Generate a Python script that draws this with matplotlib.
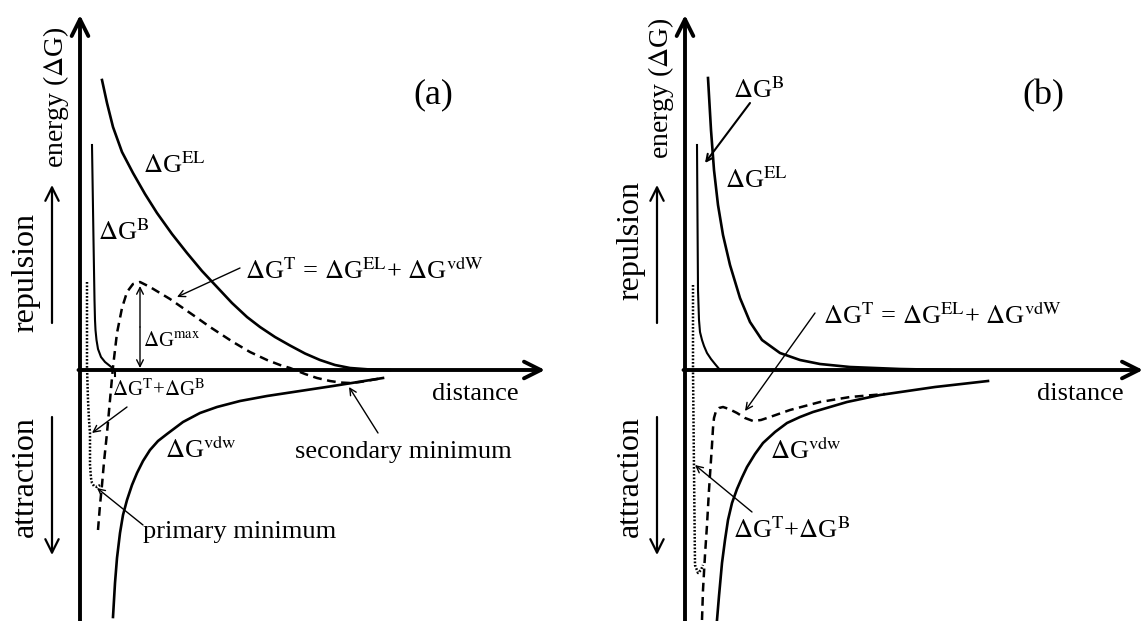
import matplotlib
matplotlib.use("Agg")
import matplotlib.pyplot as plt

plt.rcParams['font.family'] = ['Liberation Serif', 'DejaVu Serif']
plt.rcParams['mathtext.fontset'] = 'stix'

# --- panel (a) curves (distance, energy), origin = axes crossing
a_el_x = [22, 27, 33, 42, 53, 65, 77, 92, 107, 122, 137, 152, 167, 180, 195, 210, 225, 240, 255, 270, 290, 310]
a_el_y = [290, 267, 243, 218, 197, 176, 157, 136, 117, 99, 83, 67, 53, 43, 33, 24.5, 16.5, 10, 5, 2, 0.5, 0]

a_b_x = [12, 13.5, 14.5, 15, 15.5, 16.5, 18, 21, 25, 30, 35, 35]
a_b_y = [225, 130, 70, 50, 40, 30, 21, 13, 8, 4, 0, -6]

a_tb_x = [7, 7, 8, 9, 10, 10, 11, 12, 14, 17, 20]
a_tb_y = [88, 3, -30, -50, -63, -95, -108, -113, -116, -117, -115]

a_t_x = [18, 20, 22, 24, 27, 30, 33, 37, 42, 47, 53, 60, 70, 80, 90, 100, 113, 130, 153, 170,
         187, 200, 210, 225, 237, 250, 260, 270, 280, 303]
a_t_y = [-160, -135, -115, -92, -63, -30, 3, 37, 62, 78, 86, 88, 83, 77, 71, 64, 55, 43, 28, 18,
         10, 5, 2, -4, -8, -11, -12.5, -13, -12, -8]

a_vdw_x = [33, 35, 37, 40, 43, 47, 52, 57, 63, 70, 78, 87, 103, 120, 137, 160, 187, 220, 253, 303]
a_vdw_y = [-247, -213, -188, -163, -145, -130, -115, -103, -91, -80, -71, -64, -52, -43, -37, -31,
           -26, -21, -16, -8]

# --- panel (b) curves
b_el_x = [23, 26, 29, 33, 38, 45, 55, 65, 77, 95, 115, 135, 165, 215, 265]
b_el_y = [292, 240, 200, 165, 135, 105, 72, 48, 30, 17, 10, 6, 3, 1, 0]

b_b_x = [12, 12.5, 13, 14, 15, 17, 19, 22, 26, 30, 35]
b_b_y = [225, 150, 80, 50, 38, 30, 24, 17, 11, 6, 0]

b_tb_x = [8, 8, 9, 10, 13, 16, 18]
b_tb_y = [85, 0, -100, -195, -203, -200, -195]

b_t_x = [17, 18, 20, 22, 24, 26, 27, 28, 29, 31, 34, 38, 44, 52, 60, 68, 76, 85, 105, 135, 165, 200]
b_t_y = [-250, -220, -185, -155, -120, -90, -75, -58, -48, -41, -38, -37, -39, -43, -48, -51, -50,
         -47, -40, -32, -27, -24]

b_vdw_x = [32, 34, 37, 40, 43, 47, 52, 57, 62, 70, 78, 90, 102, 115, 128, 145, 162, 195, 250, 303]
b_vdw_y = [-250, -226, -193, -170, -150, -133, -119, -107.5, -97, -84, -73, -62, -53, -47, -42, -37,
           -32, -25, -17, -11]

# texts
lab_el = r'$\Delta$G$^{\mathrm{EL}}$'
lab_b = r'$\Delta$G$^{\mathrm{B}}$'
lab_vdw = r'$\Delta$G$^{\mathrm{vdw}}$'
lab_max = r'$\Delta$G$^{\mathrm{max}}$'
lab_tb = r'$\Delta$G$^{\mathrm{T}}$+$\Delta$G$^{\mathrm{B}}$'
lab_sum = r'$\Delta$G$^{\mathrm{T}}$ = $\Delta$G$^{\mathrm{EL}}$+ $\Delta$G$^{\mathrm{vdW}}$'

W, H = 1145, 621
fig = plt.figure(figsize=(W / 100, H / 100), dpi=100)
ax_a = fig.add_axes([0, 0, 572 / W, 1])
ax_b = fig.add_axes([572 / W, 0, 573 / W, 1])
ax_a.set_xlim(-80, 492)
ax_b.set_xlim(-113, 460)
for ax in (ax_a, ax_b):
    ax.set_ylim(-251, 370)
    ax.axis('off')


def arrow(ax, tail, tip, style='->', lw=1.0, scale=12):
    ax.annotate('', xy=tip, xytext=tail, annotation_clip=False,
                arrowprops=dict(arrowstyle=style, lw=lw, color='black',
                                shrinkA=0, shrinkB=0, mutation_scale=scale))


def frame(ax, xtip, rep_y, en_y):
    # main axes with arrowheads
    ax.annotate('', xy=(0, 355), xytext=(0, -252), annotation_clip=False,
                arrowprops=dict(arrowstyle='->,head_length=0.6,head_width=0.3', lw=2.8,
                                color='black', shrinkA=0, shrinkB=0, mutation_scale=20))
    ax.annotate('', xy=(xtip, 0), xytext=(-1.5, 0), annotation_clip=False,
                arrowprops=dict(arrowstyle='->,head_length=0.6,head_width=0.3', lw=2.8,
                                color='black', shrinkA=0, shrinkB=0, mutation_scale=20))
    # repulsion / attraction arrows
    arrow(ax, (-28, 47), (-28, 185), '->,head_length=0.6,head_width=0.3', lw=1.6, scale=16)
    arrow(ax, (-28, -47), (-28, -185), '->,head_length=0.6,head_width=0.3', lw=1.6, scale=16)
    ax.text(-54, rep_y, 'repulsion', rotation=90, fontsize=23, ha='center', va='center')
    ax.text(-55, -107, 'attraction', rotation=90, fontsize=23, ha='center', va='center')
    ax.text(-24, en_y, r'energy ($\Delta$G)', rotation=90, fontsize=20, ha='center', va='center')
    ax.text(395, -24, 'distance', fontsize=19, ha='center', va='center')


dash = (0, (3.5, 2.2))
dots = (0, (0.7, 0.7))

# ---------------- panel (a)
ax = ax_a
frame(ax, 465, 98, 273)
ax.plot(a_el_x, a_el_y, color='black', lw=1.9)
ax.plot(a_b_x, a_b_y, color='black', lw=1.5)
ax.plot(a_vdw_x, a_vdw_y, color='black', lw=1.9)
ax.plot(a_t_x, a_t_y, color='black', lw=1.8, ls=dash)
ax.plot(a_tb_x, a_tb_y, color='black', lw=1.8, ls=dots)

ax.text(353, 275, '(a)', fontsize=26, ha='center', va='center')
ax.text(63, 205, lab_el, fontsize=19, ha='left', va='center')
ax.text(18, 138, lab_b, fontsize=19, ha='left', va='center')
ax.text(165, 99, lab_sum, fontsize=19, ha='left', va='center')
arrow(ax, (160, 102), (97, 73))
ax.text(63, 28, lab_max, fontsize=15, ha='left', va='center')
arrow(ax, (60, 43), (60, 84), '->', lw=1.0)
arrow(ax, (60, 43), (60, 2), '->', lw=1.0)
ax.text(32, -20, lab_tb, fontsize=15, ha='left', va='center')
arrow(ax, (47, -37), (12, -63))
ax.text(85, -80, lab_vdw, fontsize=19, ha='left', va='center')
ax.text(215, -82, 'secondary minimum', fontsize=19, ha='left', va='center')
arrow(ax, (298, -63), (269, -17))
ax.text(63, -162, 'primary minimum', fontsize=19, ha='left', va='center')
arrow(ax, (63, -155), (17, -118))

# ---------------- panel (b)
ax = ax_b
frame(ax, 458, 129, 282)
ax.plot(b_el_x, b_el_y, color='black', lw=1.9)
ax.plot(b_b_x, b_b_y, color='black', lw=1.5)
ax.plot(b_vdw_x, b_vdw_y, color='black', lw=1.9)
ax.plot(b_t_x, b_t_y, color='black', lw=1.8, ls=dash)
ax.plot(b_tb_x, b_tb_y, color='black', lw=1.8, ls=dots)

ax.text(358, 274, '(b)', fontsize=26, ha='center', va='center')
ax.text(48, 280, lab_b, fontsize=19, ha='left', va='center')
arrow(ax, (65, 267), (20, 207), lw=1.5)
ax.text(40, 190, lab_el, fontsize=19, ha='left', va='center')
ax.text(138, 54, lab_sum, fontsize=19, ha='left', va='center')
arrow(ax, (130, 57), (60, -41))
ax.text(85, -81, lab_vdw, fontsize=19, ha='left', va='center')
ax.text(48, -160, lab_tb, fontsize=19, ha='left', va='center')
arrow(ax, (67, -142), (10, -95))

fig.savefig('out.png', dpi=100)
